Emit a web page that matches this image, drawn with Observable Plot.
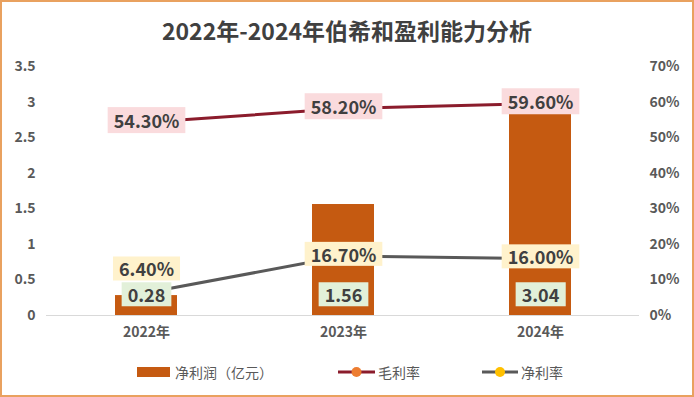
<!DOCTYPE html>
<html>
<head>
<meta charset="utf-8">
<script src="https://cdn.jsdelivr.net/npm/d3@7"></script>
<script src="https://cdn.jsdelivr.net/npm/@observablehq/plot@0.6"></script>
<style>
  html, body { margin: 0; padding: 0; background: #ffffff; }
  #wrap { position: relative; width: 694px; height: 397px; overflow: hidden; background: #ffffff;
          font-family: "Noto Sans CJK SC", "Noto Sans", sans-serif; }
  #title { position: absolute; left: 0; top: 13px; width: 694px; text-align: center;
           font-size: 23px; font-weight: bold; color: #404040; line-height: 34px; }
  #chart { position: absolute; left: 0; top: 52px; }
  #legend { position: absolute; left: 0; top: 360px; width: 694px; height: 24px; }
  .li { position: absolute; top: 0; height: 24px; display: flex; align-items: center;
        font-size: 14px; color: #595959; white-space: nowrap; }
  #frame { position: absolute; left: 0; top: 0; width: 694px; height: 397px; box-sizing: border-box;
           border: 2px solid #E9A15F; pointer-events: none; }
</style>
</head>
<body>
<div id="wrap">
  <div id="title">2022年-2024年伯希和盈利能力分析</div>
  <div id="chart"></div>
  <div id="legend"></div>
  <div id="frame"></div>
</div>
<script>
// ---- data ----
const years = ["2022年", "2023年", "2024年"];
const netProfit = [0.28, 1.56, 3.04];        // 净利润（亿元）
const grossMargin = [54.3, 58.2, 59.6];      // 毛利率 %
const netMargin = [6.4, 16.7, 16.0];         // 净利率 %
const leftTicks = [0, 0.5, 1, 1.5, 2, 2.5, 3, 3.5];
const rightTicks = [0, 10, 20, 30, 40, 50, 60, 70];
const seriesNames = ["净利润（亿元）", "毛利率", "净利率"];

const leftMax = 3.5, rightMax = 70;
const k = leftMax / rightMax; // percent -> left-axis units

const rows = years.map((y, i) => ({year: y, profit: netProfit[i], gm: grossMargin[i], nm: netMargin[i]}));

const FONT = "Noto Sans CJK SC, Noto Sans, sans-serif";
const TXT = "#404040";

const chart = Plot.plot({
  width: 694,
  height: 300,
  marginLeft: 46,
  marginRight: 55,
  marginTop: 14,
  marginBottom: 37,
  style: {fontFamily: FONT, color: "#595959", background: "transparent", overflow: "visible"},
  x: {type: "band", domain: years, paddingInner: 0.686, paddingOuter: 0.343, axis: null},
  y: {domain: [0, leftMax], axis: null},
  marks: [
    Plot.axisY(leftTicks, {anchor: "left", label: null, tickSize: 0, tickPadding: 11, fontSize: 14, fontWeight: "bold",
      tickFormat: d => String(d)}),
    Plot.axisY(rightTicks.map(t => t * k), {anchor: "right", label: null, tickSize: 0, tickPadding: 10, fontSize: 14, fontWeight: "bold",
      tickFormat: d => Math.round(d / k) + "%"}),
    Plot.axisX({label: null, tickSize: 0, tickPadding: 12, fontSize: 14, fontWeight: "bold"}),
    Plot.barY(rows, {x: "year", y: "profit", fill: "#C55A11"}),
    Plot.ruleY([0], {stroke: "#D9D9D9", strokeWidth: 1}),
    Plot.lineY(rows, {x: "year", y: d => d.gm * k, stroke: "#8B1C2C", strokeWidth: 3}),
    Plot.lineY(rows, {x: "year", y: d => d.nm * k, stroke: "#595959", strokeWidth: 3}),
    Plot.dot(rows, {x: "year", y: d => d.gm * k, r: 5, fill: "#ED7D31", stroke: "#8B1C2C"}),
    Plot.dot(rows, {x: "year", y: d => d.nm * k, r: 5, fill: "#FFC000", stroke: "#595959"}),
    Plot.text(rows, {x: "year", y: () => 0, dy: -19, text: d => d.profit.toFixed(2),
      fill: TXT, fontSize: 18, fontWeight: "bold", ariaDescription: "bar-label"}),
    Plot.text(rows, {filter: d => d.year !== years[0], x: "year", y: d => d.nm * k,
      text: d => d.nm.toFixed(2) + "%", fill: TXT, fontSize: 18, fontWeight: "bold", ariaDescription: "nm-label"}),
    Plot.text(rows, {filter: d => d.year === years[0], x: "year", y: d => d.nm * k, dy: -22,
      text: d => d.nm.toFixed(2) + "%", fill: TXT, fontSize: 18, fontWeight: "bold", ariaDescription: "nm-label"}),
    Plot.text(rows, {x: "year", y: d => d.gm * k, text: d => d.gm.toFixed(2) + "%",
      fill: TXT, fontSize: 18, fontWeight: "bold", ariaDescription: "gm-label"})
  ]
});

document.getElementById("chart").appendChild(chart);

// label backgrounds behind the library-drawn label text
const NS = "http://www.w3.org/2000/svg";
function addBoxes(desc, fill, px, py) {
  chart.querySelectorAll(`g[aria-description="${desc}"] text`).forEach(t => {
    const b = t.getBBox();
    const r = document.createElementNS(NS, "rect");
    r.setAttribute("x", b.x - px);
    r.setAttribute("y", b.y - py);
    r.setAttribute("width", b.width + 2 * px);
    r.setAttribute("height", b.height + 2 * py);
    r.setAttribute("fill", fill);
    r.setAttribute("stroke", "none");
    const tr = t.getAttribute("transform");
    if (tr) r.setAttribute("transform", tr);
    t.parentNode.insertBefore(r, t);
  });
}
addBoxes("bar-label", "#E2F0D9", 6, -1);
addBoxes("nm-label", "#FFF2CC", 6, -1);
addBoxes("gm-label", "#FADBDD", 6, 0);

// legend (HTML, built from the series names)
const legend = document.getElementById("legend");
const items = [
  {name: seriesNames[0], left: 137, sw: `<svg width="34" height="12"><rect x="0" y="1" width="33" height="10" fill="#C55A11"/></svg>`},
  {name: seriesNames[1], left: 338, sw: `<svg width="38" height="12"><line x1="0" y1="6" x2="37" y2="6" stroke="#8B1C2C" stroke-width="3"/><circle cx="18.5" cy="6" r="5" fill="#ED7D31"/></svg>`},
  {name: seriesNames[2], left: 482, sw: `<svg width="37" height="12"><line x1="0" y1="6" x2="36" y2="6" stroke="#595959" stroke-width="3"/><circle cx="18" cy="6" r="5" fill="#FFC000"/></svg>`}
];
items.forEach((it, i) => {
  const d = document.createElement("div");
  d.className = "li";
  d.style.left = it.left + "px";
  d.innerHTML = it.sw + `<span style="margin-left:${i === 0 ? 4 : 2}px">${it.name}</span>`;
  legend.appendChild(d);
});
</script>
</body>
</html>
